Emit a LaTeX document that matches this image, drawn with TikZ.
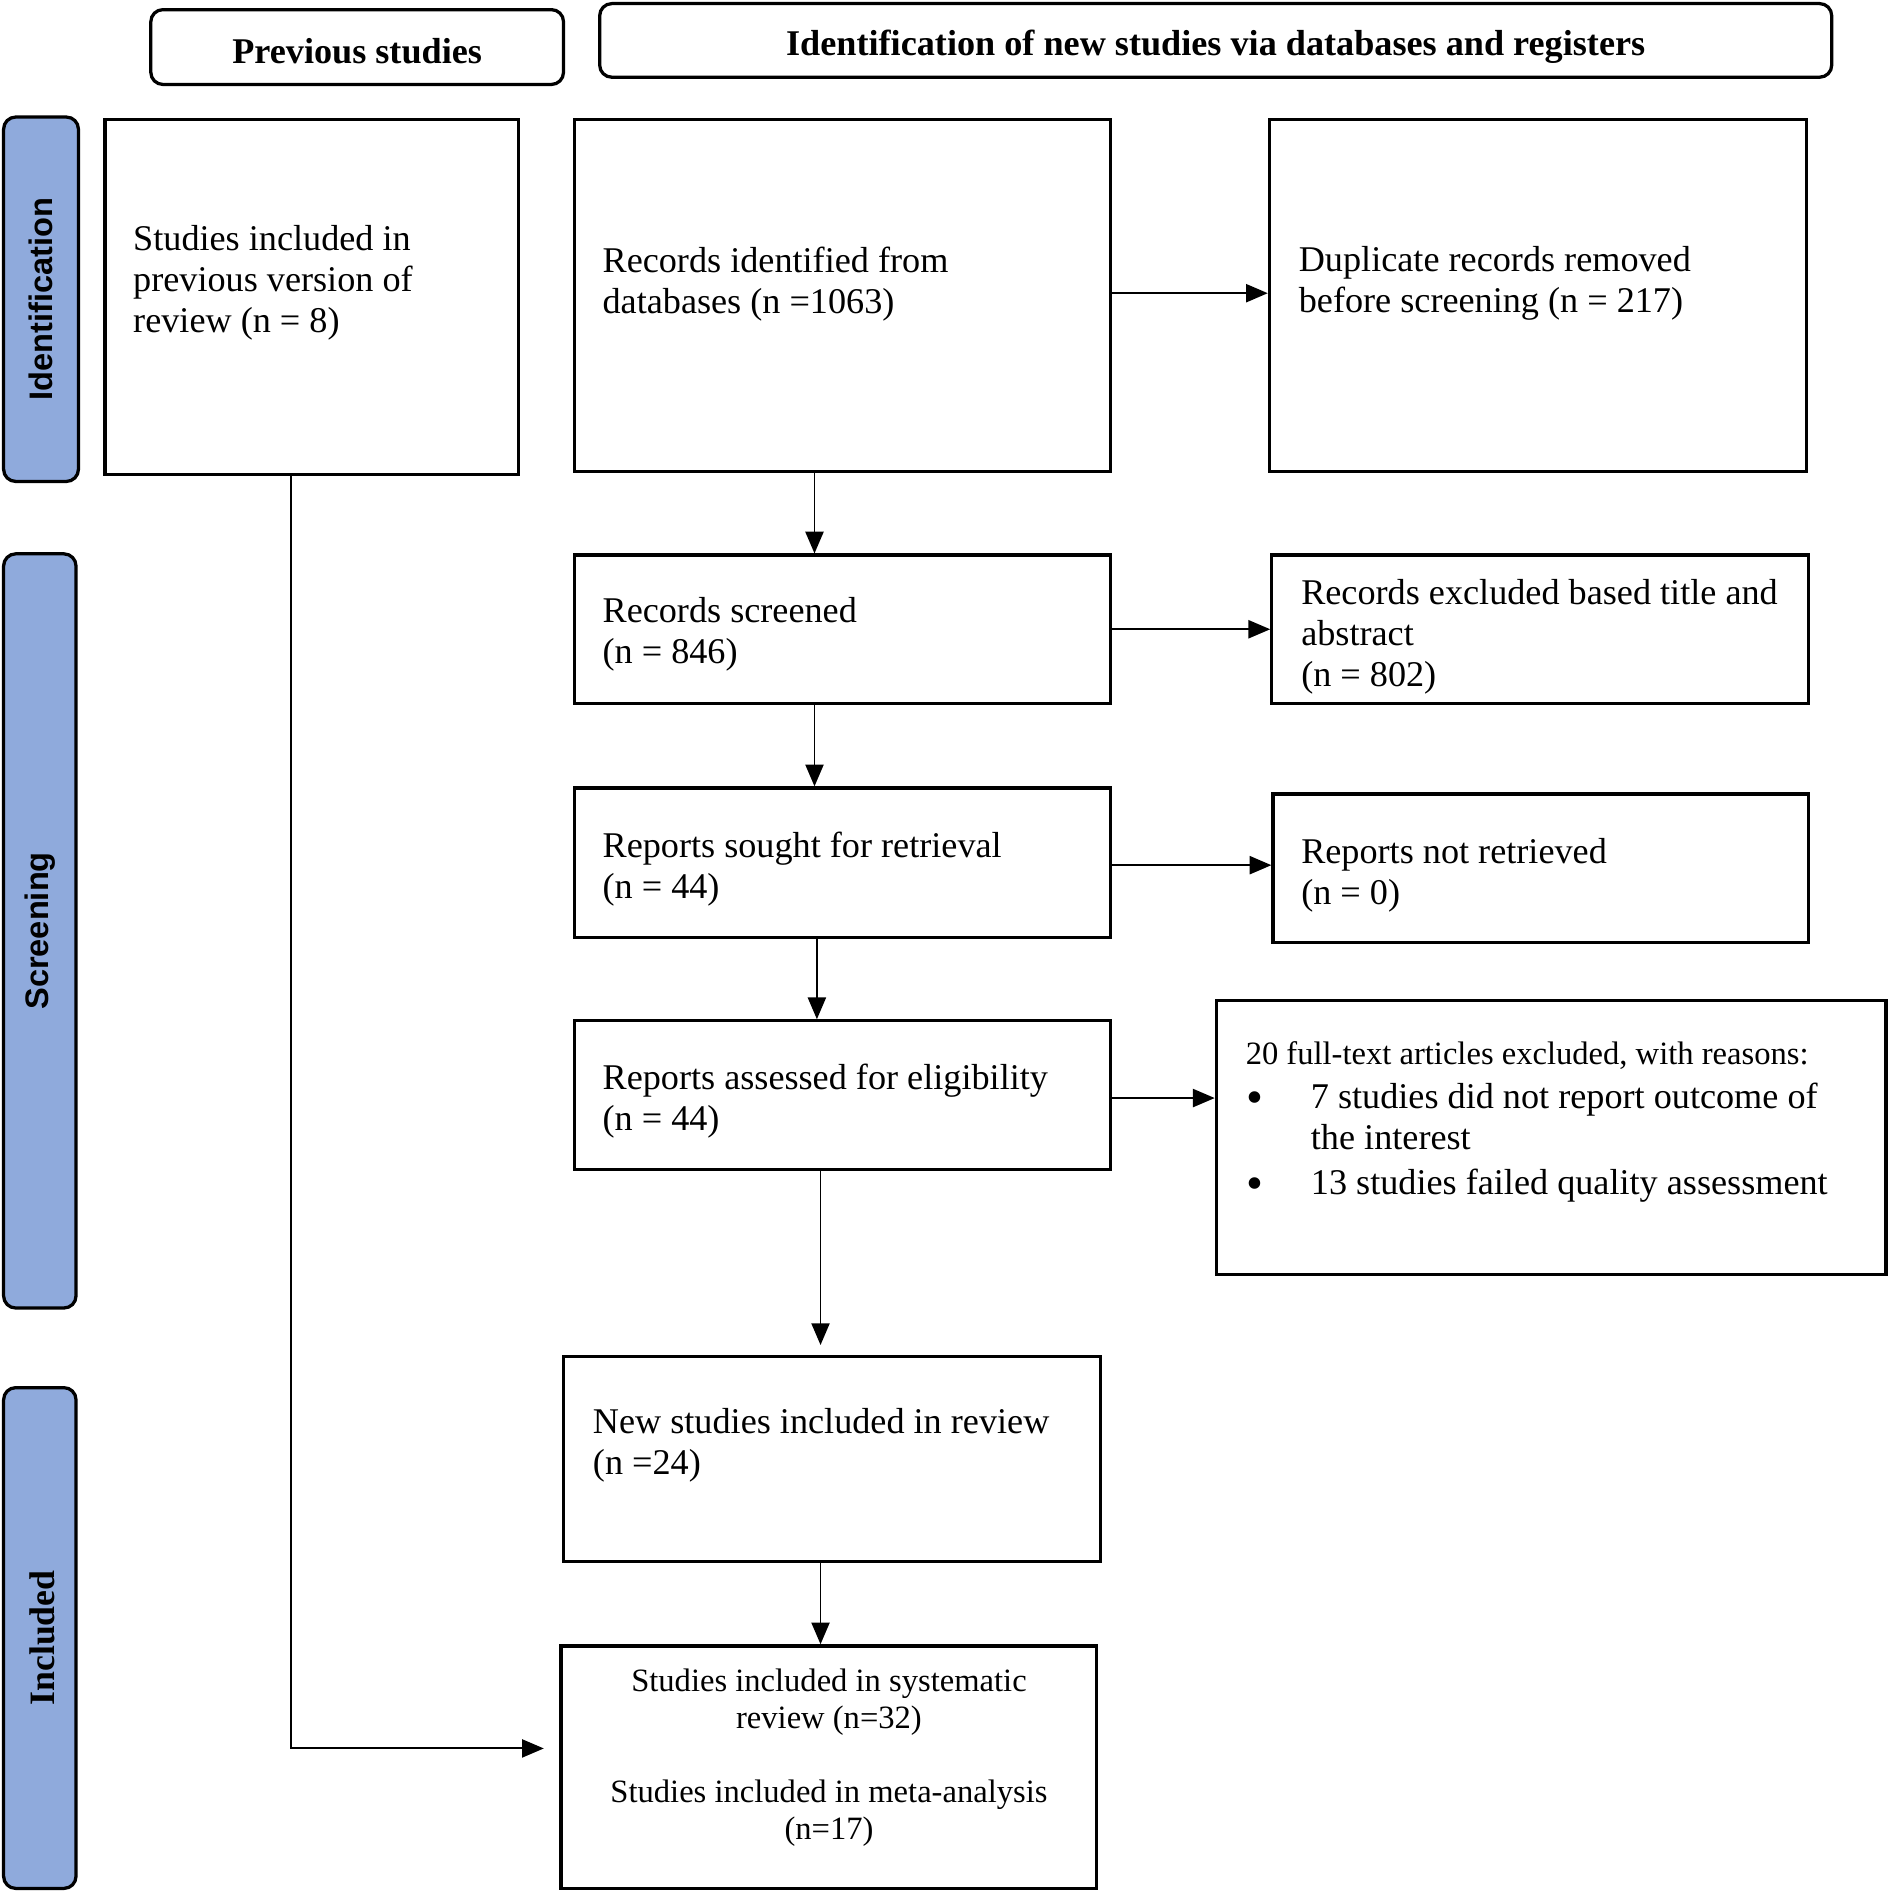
\documentclass[tikz,border=0pt]{standalone}
\usepackage{fontspec}
\setmainfont{Liberation Serif}
\setsansfont{Liberation Sans}
\usetikzlibrary{arrows.meta,fit}
\definecolor{barblue}{RGB}{143,170,220}
\tikzset{
  box/.style={draw, line width=1.35pt, inner sep=0pt},
  hdr/.style={draw, line width=1.35pt, inner sep=0pt, rounded corners=5pt},
  bar/.style={draw, line width=1.35pt, inner sep=0pt, rounded corners=5pt, fill=barblue},
  txt/.style={inner sep=0pt, anchor=north west, align=left, font=\fontsize{15}{17}\selectfont},
  hdrtxt/.style={font=\fontsize{15}{17}\selectfont\bfseries},
  bul/.style={inner sep=0pt, anchor=center, font=\fontsize{20}{17}\selectfont},
  arr/.style={line width=0.8pt, -{Triangle[length=9pt,width=7.5pt]}},
  barlbl/.style={rotate=90, font=\fontsize{13.5}{16}\selectfont\sffamily\bfseries},
}
\begin{document}
\begin{tikzpicture}[x=0.5pt,y=-0.5pt]
\useasboundingbox (0,0) rectangle (1568,1571.3);
% headers
\node[hdr, fit={(125,8) (467,70)}] (hprev) {};
\node[hdrtxt] at ([yshift=-1.5pt]hprev.center) {Previous studies};
\node[hdr, fit={(497,3) (1518,64)}] (hnew) {};
\node[hdrtxt] at ([yshift=-2.5pt]hnew.center) {Identification of new studies via databases and registers};
% side bars
\node[bar, fit={(3,97) (65,399)}] (bid) {};
\node[barlbl] at (bid) {Identification};
\node[bar, fit={(3,459) (63,1084)}] (bsc) {};
\node[barlbl] at (bsc) {Screening};
\node[bar, fit={(3,1150) (63,1565)}] (bin) {};
\node[rotate=90, font=\fontsize{14.8}{17}\selectfont\bfseries] at ([xshift=1pt]bin.center) {Included};
% boxes
\node[box, fit={(87,99) (430,393)}] (prev) {};
\node[txt] at (110,186) {Studies included in\\previous version of\\review (n = 8)};
\node[box, fit={(476,99) (920,391)}] (recid) {};
\node[txt] at (499,204) {Records identified from\\databases (n =1063)};
\node[box, fit={(1052,99) (1497,391)}] (dup) {};
\node[txt] at (1076,204) {Duplicate records removed\\before screening (n = 217)};
\node[box, fit={(476,460) (920,583)}] (scr) {};
\node[txt] at (499,495) {Records screened\\(n = 846)};
\node[box, fit={(1054,460) (1499,583)}] (excl) {};
\node[txt] at (1078,480) {Records excluded based title and\\abstract\\(n = 802)};
\node[box, fit={(476,653) (920,777)}] (sought) {};
\node[txt] at (499,689) {Reports sought for retrieval\\(n = 44)};
\node[box, fit={(1055,658) (1499,781)}] (notret) {};
\node[txt] at (1078,694) {Reports not retrieved\\(n = 0)};
\node[box, fit={(476,846) (920,969)}] (assess) {};
\node[txt] at (499,881) {Reports assessed for eligibility\\(n = 44)};
\node[box, fit={(1008,829) (1563,1056)}] (full) {};
\node[txt, font=\fontsize{13.5}{15}\selectfont] at (1032,863) {20 full-text articles excluded, with reasons:};
\node[bul] at (1040,914) {\textbullet};
\node[txt] at (1086,897) {7 studies did not report outcome of\\the interest};
\node[bul] at (1040,985) {\textbullet};
\node[txt] at (1086,968) {13 studies failed quality assessment};
\node[box, fit={(467,1124) (912,1294)}] (newinc) {};
\node[txt] at (491,1167) {New studies included in review\\(n =24)};
\node[box, fit={(465,1364) (909,1565)}] (final) {};
\node[inner sep=0pt, anchor=north, align=center, font=\fontsize{13.5}{15.25}\selectfont] at (687,1383) {Studies included in systematic\\review (n=32)\\[15.25pt]Studies included in meta-analysis\\(n=17)};
% connectors
\draw[arr] (recid.east |- 0,243) -- (dup.west |- 0,243);
\draw[arr] (675,0 |- recid.south) -- (675,0 |- scr.north);
\draw[arr] (scr) -- (excl);
\draw[arr] (675,0 |- scr.south) -- (675,0 |- sought.north);
\draw[arr] (sought.east |- 0,717) -- (notret.west |- 0,717);
\draw[arr] (677,0 |- sought.south) -- (677,0 |- assess.north);
\draw[arr] (assess.east |- 0,910) -- (full.west |- 0,910);
\draw[arr, shorten >=4pt] (680,0 |- assess.south) -- (680,0 |- newinc.north);
\draw[arr] (680,0 |- newinc.south) -- (680,0 |- final.north);
\draw[arr, shorten >=6.5pt] (241,0 |- prev.south) |- (final.west |- 0,1449);
\end{tikzpicture}
\end{document}
